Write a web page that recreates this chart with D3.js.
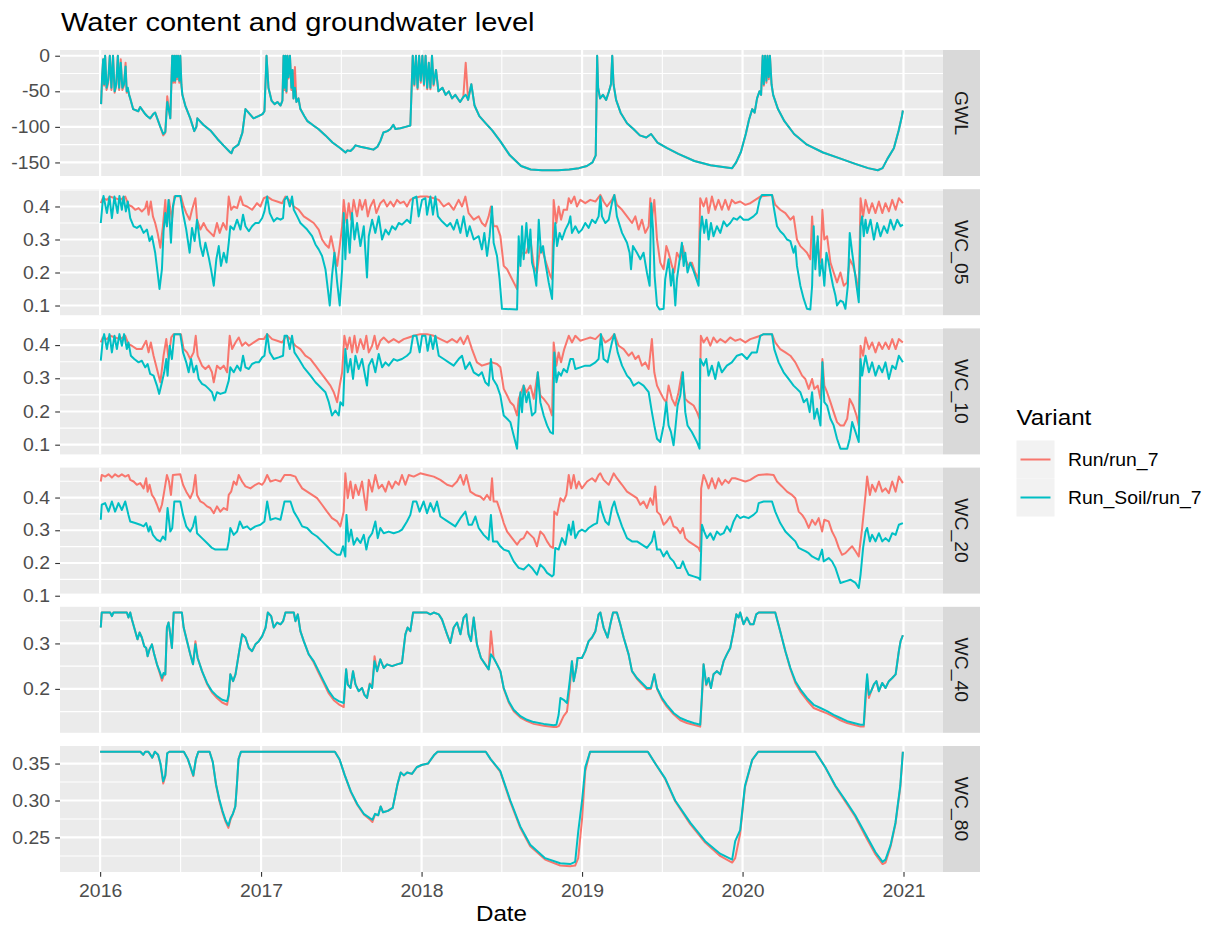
<!DOCTYPE html>
<html>
<head>
<meta charset="utf-8">
<script src="https://cdn.jsdelivr.net/npm/d3@7"></script>
<style>
  body { margin: 0; background: #fff; }
  svg { display: block; font-family: "Liberation Sans", Arial, sans-serif; }
</style>
</head>
<body>
<div id="chart"></div>
<script>
// values: [decimal year, value]
var gwlSoil = [[2016.006,-68],[2016.012,-30],[2016.019,-5],[2016.025,-40],[2016.031,0],[2016.040,-45],[2016.050,-35],[2016.060,0],[2016.070,-45],[2016.080,0],[2016.090,-50],[2016.100,-40],[2016.110,0],[2016.118,-45],[2016.128,-10],[2016.138,-45],[2016.148,-40],[2016.158,-15],[2016.165,-50],[2016.172,-45],[2016.180,-55],[2016.187,-60],[2016.205,-75],[2016.237,-78],[2016.249,-72],[2016.280,-82],[2016.293,-85],[2016.311,-88],[2016.330,-82],[2016.342,-80],[2016.361,-92],[2016.374,-100],[2016.392,-110],[2016.405,-107],[2016.417,-65],[2016.430,-80],[2016.436,-88],[2016.448,0],[2016.454,-35],[2016.460,0],[2016.466,-35],[2016.472,0],[2016.478,-30],[2016.484,0],[2016.492,-35],[2016.498,0],[2016.505,-40],[2016.511,-55],[2016.529,-70],[2016.560,-88],[2016.585,-106],[2016.598,-100],[2016.604,-88],[2016.641,-97],[2016.685,-105],[2016.729,-117],[2016.766,-126],[2016.809,-136],[2016.816,-137],[2016.828,-130],[2016.859,-125],[2016.884,-108],[2016.903,-75],[2016.922,-80],[2016.953,-88],[2016.984,-85],[2017.009,-82],[2017.021,-78],[2017.034,0],[2017.046,-45],[2017.065,-63],[2017.084,-68],[2017.102,-65],[2017.121,-70],[2017.133,-63],[2017.140,0],[2017.146,-45],[2017.152,0],[2017.158,-50],[2017.165,0],[2017.171,-30],[2017.180,0],[2017.189,-45],[2017.196,-20],[2017.202,-60],[2017.211,-45],[2017.220,-65],[2017.233,-60],[2017.245,-75],[2017.270,-85],[2017.289,-92],[2017.308,-95],[2017.326,-98],[2017.357,-103],[2017.401,-112],[2017.445,-122],[2017.494,-130],[2017.526,-136],[2017.538,-133],[2017.557,-134],[2017.575,-130],[2017.588,-126],[2017.619,-128],[2017.663,-130],[2017.700,-132],[2017.725,-128],[2017.743,-120],[2017.762,-108],[2017.787,-106],[2017.806,-103],[2017.824,-97],[2017.837,-103],[2017.868,-102],[2017.900,-100],[2017.930,-98],[2017.945,0],[2017.955,-40],[2017.965,0],[2017.975,-45],[2017.985,0],[2017.995,-35],[2018.005,0],[2018.015,-40],[2018.025,0],[2018.035,-45],[2018.045,-10],[2018.055,-45],[2018.065,0],[2018.075,-40],[2018.090,-20],[2018.105,-50],[2018.130,-45],[2018.150,-55],[2018.170,-50],[2018.190,-60],[2018.210,-55],[2018.240,-65],[2018.260,-58],[2018.275,-55],[2018.290,-62],[2018.310,-40],[2018.330,-70],[2018.360,-85],[2018.400,-95],[2018.440,-105],[2018.490,-120],[2018.550,-140],[2018.620,-155],[2018.680,-160],[2018.750,-161],[2018.850,-161],[2018.920,-160],[2018.980,-158],[2019.030,-155],[2019.065,-150],[2019.085,-140],[2019.094,0],[2019.100,-45],[2019.112,-60],[2019.130,-55],[2019.150,-62],[2019.168,-50],[2019.180,-40],[2019.188,0],[2019.196,-40],[2019.212,-62],[2019.240,-80],[2019.280,-95],[2019.320,-103],[2019.360,-112],[2019.400,-115],[2019.430,-110],[2019.470,-122],[2019.530,-130],[2019.600,-138],[2019.700,-148],[2019.800,-154],[2019.900,-157],[2019.935,-158],[2019.960,-150],[2019.990,-135],[2020.020,-110],[2020.040,-90],[2020.060,-75],[2020.075,-80],[2020.090,-60],[2020.105,-50],[2020.115,-55],[2020.125,0],[2020.132,-40],[2020.140,0],[2020.148,-35],[2020.155,0],[2020.163,-30],[2020.170,0],[2020.180,-40],[2020.190,-55],[2020.220,-75],[2020.260,-92],[2020.320,-110],[2020.400,-125],[2020.500,-136],[2020.600,-144],[2020.700,-152],[2020.780,-158],[2020.840,-161],[2020.870,-158],[2020.900,-145],[2020.940,-130],[2020.970,-105],[2020.990,-85],[2020.996,-77]];
var gwlRun = [[2016.006,-68],[2016.012,-35],[2016.019,-5],[2016.025,-42],[2016.031,0],[2016.040,-48],[2016.050,-38],[2016.060,0],[2016.070,-48],[2016.080,0],[2016.090,-52],[2016.100,-42],[2016.110,0],[2016.118,-48],[2016.128,-5],[2016.138,-48],[2016.148,-42],[2016.158,-10],[2016.165,-52],[2016.172,-47],[2016.180,-55],[2016.187,-60],[2016.205,-75],[2016.237,-78],[2016.249,-72],[2016.280,-82],[2016.293,-85],[2016.311,-88],[2016.330,-82],[2016.342,-80],[2016.361,-92],[2016.374,-100],[2016.392,-112],[2016.405,-108],[2016.417,-57],[2016.430,-80],[2016.436,-88],[2016.448,0],[2016.454,-38],[2016.460,0],[2016.466,-38],[2016.472,0],[2016.478,-33],[2016.484,0],[2016.492,-38],[2016.498,0],[2016.505,-42],[2016.511,-55],[2016.529,-70],[2016.560,-88],[2016.585,-106],[2016.598,-100],[2016.604,-88],[2016.641,-97],[2016.685,-105],[2016.729,-117],[2016.766,-126],[2016.809,-136],[2016.816,-137],[2016.828,-130],[2016.859,-125],[2016.884,-108],[2016.903,-75],[2016.922,-80],[2016.953,-88],[2016.984,-85],[2017.009,-82],[2017.021,-78],[2017.034,0],[2017.046,-45],[2017.065,-63],[2017.084,-68],[2017.102,-65],[2017.121,-70],[2017.133,-63],[2017.140,0],[2017.146,-48],[2017.152,0],[2017.158,-52],[2017.165,0],[2017.171,-32],[2017.180,0],[2017.189,-48],[2017.196,-20],[2017.202,-60],[2017.211,-16],[2017.220,-65],[2017.233,-60],[2017.245,-75],[2017.270,-85],[2017.289,-92],[2017.308,-95],[2017.326,-98],[2017.357,-103],[2017.401,-112],[2017.445,-122],[2017.494,-130],[2017.526,-136],[2017.538,-133],[2017.557,-134],[2017.575,-130],[2017.588,-126],[2017.619,-128],[2017.663,-130],[2017.700,-132],[2017.725,-128],[2017.743,-120],[2017.762,-108],[2017.787,-106],[2017.806,-103],[2017.824,-97],[2017.837,-103],[2017.868,-102],[2017.900,-100],[2017.930,-98],[2017.945,0],[2017.955,-42],[2017.965,0],[2017.975,-47],[2017.985,0],[2017.995,-38],[2018.005,0],[2018.015,-42],[2018.025,0],[2018.035,-47],[2018.045,-10],[2018.055,-47],[2018.065,0],[2018.075,-42],[2018.090,-20],[2018.105,-50],[2018.130,-45],[2018.150,-55],[2018.170,-50],[2018.190,-60],[2018.210,-55],[2018.240,-65],[2018.260,-58],[2018.275,-10],[2018.290,-62],[2018.310,-40],[2018.330,-70],[2018.360,-85],[2018.400,-95],[2018.440,-105],[2018.490,-120],[2018.550,-140],[2018.620,-155],[2018.680,-160],[2018.750,-161],[2018.850,-161],[2018.920,-160],[2018.980,-158],[2019.030,-155],[2019.065,-150],[2019.085,-140],[2019.094,0],[2019.100,-45],[2019.112,-60],[2019.130,-55],[2019.150,-62],[2019.168,-50],[2019.180,-40],[2019.188,0],[2019.196,-40],[2019.212,-62],[2019.240,-80],[2019.280,-95],[2019.320,-103],[2019.360,-112],[2019.400,-115],[2019.430,-110],[2019.470,-122],[2019.530,-130],[2019.600,-138],[2019.700,-148],[2019.800,-154],[2019.900,-157],[2019.935,-158],[2019.960,-150],[2019.990,-135],[2020.020,-110],[2020.040,-90],[2020.060,-75],[2020.075,-80],[2020.090,-60],[2020.105,-50],[2020.115,-55],[2020.125,0],[2020.132,-42],[2020.140,0],[2020.148,-38],[2020.155,0],[2020.163,-33],[2020.170,0],[2020.180,-40],[2020.190,-55],[2020.220,-75],[2020.260,-92],[2020.320,-110],[2020.400,-125],[2020.500,-136],[2020.600,-144],[2020.700,-152],[2020.780,-158],[2020.840,-161],[2020.870,-158],[2020.900,-145],[2020.940,-130],[2020.970,-105],[2020.990,-85],[2020.996,-77]];

var wc05Soil = [[2016.004,.350],[2016.017,.420],[2016.021,.432],[2016.042,.380],[2016.058,.430],[2016.073,.365],[2016.089,.430],[2016.108,.380],[2016.120,.432],[2016.135,.390],[2016.145,.430],[2016.160,.385],[2016.172,.415],[2016.187,.365],[2016.208,.340],[2016.228,.335],[2016.249,.342],[2016.270,.320],[2016.291,.330],[2016.307,.295],[2016.322,.310],[2016.342,.260],[2016.357,.200],[2016.369,.150],[2016.384,.210],[2016.394,.325],[2016.405,.380],[2016.415,.340],[2016.425,.420],[2016.440,.290],[2016.452,.400],[2016.467,.432],[2016.498,.432],[2016.515,.380],[2016.535,.330],[2016.556,.260],[2016.571,.335],[2016.587,.295],[2016.602,.360],[2016.623,.280],[2016.639,.250],[2016.654,.290],[2016.675,.245],[2016.689,.210],[2016.706,.160],[2016.722,.240],[2016.737,.280],[2016.751,.220],[2016.768,.260],[2016.785,.230],[2016.799,.290],[2016.809,.340],[2016.830,.330],[2016.851,.360],[2016.872,.330],[2016.888,.375],[2016.903,.340],[2016.924,.325],[2016.944,.340],[2016.965,.350],[2016.986,.350],[2017.007,.365],[2017.021,.385],[2017.038,.430],[2017.054,.380],[2017.079,.355],[2017.100,.365],[2017.121,.360],[2017.137,.365],[2017.146,.420],[2017.162,.430],[2017.179,.400],[2017.193,.430],[2017.204,.390],[2017.225,.370],[2017.245,.350],[2017.287,.330],[2017.318,.310],[2017.339,.285],[2017.359,.270],[2017.380,.250],[2017.401,.210],[2017.411,.170],[2017.428,.100],[2017.442,.190],[2017.457,.260],[2017.474,.170],[2017.490,.100],[2017.505,.210],[2017.515,.380],[2017.525,.240],[2017.536,.360],[2017.552,.260],[2017.567,.380],[2017.582,.300],[2017.598,.350],[2017.619,.280],[2017.640,.340],[2017.660,.185],[2017.671,.310],[2017.692,.360],[2017.712,.320],[2017.733,.370],[2017.754,.300],[2017.775,.330],[2017.795,.315],[2017.816,.340],[2017.837,.330],[2017.858,.350],[2017.878,.345],[2017.909,.360],[2017.930,.350],[2017.947,.425],[2017.968,.430],[2017.982,.370],[2018.003,.420],[2018.024,.425],[2018.034,.375],[2018.055,.430],[2018.071,.375],[2018.086,.430],[2018.102,.370],[2018.127,.355],[2018.159,.340],[2018.179,.350],[2018.200,.330],[2018.221,.360],[2018.242,.320],[2018.262,.370],[2018.283,.310],[2018.300,.340],[2018.325,.300],[2018.356,.310],[2018.376,.270],[2018.391,.320],[2018.408,.250],[2018.424,.310],[2018.439,.400],[2018.449,.290],[2018.470,.250],[2018.486,.180],[2018.501,.090],[2018.595,.088],[2018.605,.310],[2018.616,.220],[2018.626,.340],[2018.636,.240],[2018.653,.350],[2018.667,.260],[2018.678,.330],[2018.688,.230],[2018.699,.210],[2018.715,.160],[2018.730,.360],[2018.744,.260],[2018.757,.280],[2018.771,.230],[2018.792,.170],[2018.813,.120],[2018.823,.280],[2018.833,.350],[2018.844,.280],[2018.860,.320],[2018.875,.300],[2018.896,.330],[2018.917,.350],[2018.927,.370],[2018.937,.320],[2018.958,.340],[2018.979,.320],[2018.999,.330],[2019.020,.350],[2019.041,.335],[2019.062,.360],[2019.083,.350],[2019.103,.370],[2019.114,.430],[2019.124,.370],[2019.145,.350],[2019.166,.360],[2019.186,.410],[2019.201,.435],[2019.217,.370],[2019.249,.320],[2019.280,.290],[2019.296,.260],[2019.305,.210],[2019.317,.280],[2019.342,.260],[2019.363,.240],[2019.383,.260],[2019.404,.200],[2019.421,.160],[2019.431,.410],[2019.442,.330],[2019.452,.190],[2019.467,.100],[2019.483,.088],[2019.508,.090],[2019.518,.180],[2019.539,.240],[2019.554,.160],[2019.566,.210],[2019.581,.100],[2019.591,.180],[2019.608,.240],[2019.622,.290],[2019.633,.220],[2019.643,.260],[2019.657,.200],[2019.674,.230],[2019.691,.210],[2019.705,.190],[2019.726,.160],[2019.736,.320],[2019.747,.370],[2019.761,.320],[2019.774,.360],[2019.788,.300],[2019.803,.350],[2019.819,.310],[2019.840,.340],[2019.861,.320],[2019.882,.355],[2019.902,.340],[2019.923,.350],[2019.944,.365],[2019.965,.360],[2019.985,.370],[2020.006,.360],[2020.037,.360],[2020.068,.370],[2020.089,.380],[2020.106,.420],[2020.120,.435],[2020.183,.435],[2020.193,.400],[2020.214,.340],[2020.234,.325],[2020.255,.315],[2020.276,.300],[2020.297,.295],[2020.317,.260],[2020.328,.280],[2020.338,.220],[2020.359,.160],[2020.380,.120],[2020.400,.090],[2020.421,.088],[2020.432,.160],[2020.442,.340],[2020.452,.210],[2020.467,.310],[2020.479,.190],[2020.494,.240],[2020.508,.160],[2020.521,.260],[2020.535,.230],[2020.546,.200],[2020.562,.160],[2020.577,.130],[2020.587,.100],[2020.608,.115],[2020.625,.110],[2020.639,.090],[2020.654,.160],[2020.666,.320],[2020.681,.260],[2020.695,.210],[2020.708,.160],[2020.722,.110],[2020.733,.340],[2020.743,.370],[2020.753,.310],[2020.764,.360],[2020.774,.320],[2020.795,.360],[2020.816,.300],[2020.836,.350],[2020.857,.310],[2020.878,.340],[2020.899,.320],[2020.919,.360],[2020.940,.330],[2020.961,.360],[2020.982,.340],[2020.996,.345]];
var wc05Run = [[2016.004,.410],[2016.017,.425],[2016.042,.420],[2016.062,.430],[2016.093,.425],[2016.125,.420],[2016.156,.430],[2016.176,.405],[2016.197,.400],[2016.218,.390],[2016.239,.395],[2016.259,.385],[2016.280,.395],[2016.291,.415],[2016.301,.375],[2016.315,.415],[2016.328,.370],[2016.342,.350],[2016.357,.320],[2016.374,.275],[2016.390,.340],[2016.405,.420],[2016.415,.340],[2016.428,.420],[2016.446,.360],[2016.461,.430],[2016.502,.432],[2016.519,.400],[2016.535,.380],[2016.556,.360],[2016.571,.390],[2016.592,.425],[2016.602,.360],[2016.623,.330],[2016.643,.350],[2016.664,.330],[2016.685,.320],[2016.706,.310],[2016.726,.350],[2016.743,.320],[2016.764,.350],[2016.785,.330],[2016.799,.430],[2016.814,.390],[2016.830,.400],[2016.851,.395],[2016.872,.430],[2016.888,.405],[2016.913,.400],[2016.944,.390],[2016.975,.410],[2016.996,.400],[2017.017,.425],[2017.038,.430],[2017.069,.420],[2017.100,.415],[2017.131,.410],[2017.152,.430],[2017.183,.415],[2017.204,.400],[2017.235,.390],[2017.266,.370],[2017.297,.360],[2017.328,.350],[2017.359,.330],[2017.380,.300],[2017.401,.285],[2017.422,.275],[2017.436,.310],[2017.453,.270],[2017.474,.220],[2017.490,.280],[2017.505,.340],[2017.515,.420],[2017.532,.350],[2017.546,.410],[2017.561,.360],[2017.577,.420],[2017.598,.370],[2017.615,.420],[2017.629,.390],[2017.650,.420],[2017.665,.370],[2017.681,.400],[2017.702,.420],[2017.718,.380],[2017.743,.410],[2017.764,.420],[2017.785,.400],[2017.806,.415],[2017.826,.400],[2017.847,.420],[2017.868,.410],[2017.889,.415],[2017.909,.400],[2017.930,.420],[2017.951,.425],[2017.992,.430],[2018.034,.430],[2018.076,.425],[2018.107,.420],[2018.138,.400],[2018.169,.410],[2018.200,.390],[2018.231,.420],[2018.252,.400],[2018.273,.430],[2018.293,.380],[2018.325,.360],[2018.356,.370],[2018.376,.350],[2018.397,.340],[2018.418,.370],[2018.432,.400],[2018.449,.340],[2018.470,.340],[2018.491,.310],[2018.512,.220],[2018.533,.210],[2018.553,.190],[2018.574,.170],[2018.595,.150],[2018.605,.230],[2018.626,.260],[2018.653,.260],[2018.678,.300],[2018.699,.220],[2018.719,.200],[2018.740,.280],[2018.757,.260],[2018.782,.220],[2018.802,.190],[2018.813,.180],[2018.823,.420],[2018.840,.350],[2018.854,.400],[2018.869,.360],[2018.885,.390],[2018.906,.390],[2018.917,.425],[2018.931,.410],[2018.952,.430],[2018.968,.400],[2018.989,.420],[2019.020,.410],[2019.051,.420],[2019.083,.415],[2019.114,.435],[2019.134,.415],[2019.155,.400],[2019.186,.420],[2019.201,.435],[2019.217,.405],[2019.249,.390],[2019.280,.370],[2019.311,.350],[2019.332,.370],[2019.352,.330],[2019.373,.360],[2019.394,.320],[2019.415,.340],[2019.425,.425],[2019.435,.360],[2019.450,.420],[2019.467,.300],[2019.487,.230],[2019.508,.210],[2019.525,.280],[2019.539,.260],[2019.560,.220],[2019.574,.200],[2019.591,.260],[2019.612,.240],[2019.628,.280],[2019.643,.240],[2019.664,.220],[2019.684,.230],[2019.705,.200],[2019.726,.180],[2019.736,.425],[2019.757,.400],[2019.774,.425],[2019.788,.380],[2019.809,.430],[2019.830,.390],[2019.850,.420],[2019.871,.390],[2019.892,.420],[2019.913,.390],[2019.933,.420],[2019.954,.410],[2019.985,.415],[2020.017,.405],[2020.048,.410],[2020.079,.420],[2020.110,.430],[2020.183,.435],[2020.203,.405],[2020.234,.390],[2020.266,.380],[2020.297,.360],[2020.317,.370],[2020.338,.300],[2020.359,.280],[2020.380,.270],[2020.400,.260],[2020.421,.240],[2020.432,.370],[2020.446,.260],[2020.463,.290],[2020.484,.230],[2020.496,.390],[2020.508,.300],[2020.525,.310],[2020.546,.230],[2020.566,.200],[2020.587,.170],[2020.608,.200],[2020.629,.160],[2020.650,.170],[2020.666,.240],[2020.687,.220],[2020.708,.180],[2020.722,.130],[2020.733,.425],[2020.749,.370],[2020.764,.420],[2020.785,.380],[2020.805,.410],[2020.826,.380],[2020.847,.415],[2020.868,.380],[2020.888,.410],[2020.909,.385],[2020.930,.420],[2020.951,.390],[2020.971,.425],[2020.996,.410]];

var wc10Soil = [[2016.004,.353],[2016.017,.418],[2016.025,.433],[2016.042,.388],[2016.058,.433],[2016.073,.378],[2016.089,.428],[2016.104,.388],[2016.120,.433],[2016.135,.398],[2016.149,.433],[2016.166,.388],[2016.176,.408],[2016.191,.368],[2016.212,.358],[2016.239,.348],[2016.259,.353],[2016.280,.333],[2016.295,.343],[2016.311,.313],[2016.332,.308],[2016.353,.278],[2016.367,.253],[2016.384,.288],[2016.398,.318],[2016.411,.358],[2016.419,.308],[2016.432,.398],[2016.446,.358],[2016.461,.433],[2016.498,.433],[2016.515,.378],[2016.535,.348],[2016.550,.318],[2016.565,.358],[2016.581,.318],[2016.598,.338],[2016.612,.298],[2016.633,.283],[2016.654,.278],[2016.675,.268],[2016.695,.258],[2016.710,.233],[2016.726,.258],[2016.747,.253],[2016.778,.258],[2016.799,.293],[2016.809,.333],[2016.830,.318],[2016.851,.338],[2016.872,.323],[2016.888,.368],[2016.903,.333],[2016.924,.328],[2016.944,.343],[2016.965,.348],[2016.986,.348],[2017.007,.363],[2017.021,.368],[2017.038,.433],[2017.054,.378],[2017.079,.358],[2017.110,.363],[2017.137,.368],[2017.146,.428],[2017.162,.428],[2017.179,.388],[2017.193,.428],[2017.208,.378],[2017.235,.358],[2017.266,.333],[2017.308,.308],[2017.339,.288],[2017.370,.273],[2017.401,.258],[2017.422,.228],[2017.442,.188],[2017.463,.203],[2017.484,.188],[2017.494,.228],[2017.511,.218],[2017.525,.388],[2017.540,.318],[2017.557,.358],[2017.573,.298],[2017.588,.368],[2017.608,.328],[2017.629,.358],[2017.650,.303],[2017.660,.278],[2017.671,.338],[2017.692,.358],[2017.712,.318],[2017.733,.373],[2017.754,.333],[2017.775,.348],[2017.795,.338],[2017.826,.358],[2017.847,.353],[2017.878,.358],[2017.909,.368],[2017.930,.378],[2017.947,.428],[2017.968,.428],[2017.988,.378],[2018.003,.428],[2018.024,.428],[2018.038,.383],[2018.055,.428],[2018.071,.388],[2018.086,.428],[2018.107,.368],[2018.138,.358],[2018.169,.348],[2018.200,.338],[2018.231,.358],[2018.252,.368],[2018.273,.328],[2018.300,.348],[2018.325,.318],[2018.356,.308],[2018.376,.318],[2018.397,.288],[2018.418,.278],[2018.432,.358],[2018.445,.298],[2018.470,.278],[2018.491,.248],[2018.512,.188],[2018.533,.178],[2018.553,.168],[2018.574,.128],[2018.595,.088],[2018.605,.178],[2018.616,.258],[2018.626,.198],[2018.636,.278],[2018.653,.228],[2018.667,.258],[2018.688,.188],[2018.709,.198],[2018.724,.318],[2018.740,.228],[2018.761,.188],[2018.782,.158],[2018.802,.138],[2018.819,.133],[2018.827,.378],[2018.840,.288],[2018.854,.318],[2018.869,.308],[2018.885,.328],[2018.906,.318],[2018.927,.358],[2018.944,.358],[2018.958,.328],[2018.989,.333],[2019.020,.338],[2019.051,.338],[2019.083,.348],[2019.103,.358],[2019.118,.433],[2019.134,.358],[2019.159,.348],[2019.186,.408],[2019.201,.433],[2019.222,.378],[2019.249,.338],[2019.280,.308],[2019.300,.298],[2019.321,.278],[2019.352,.288],[2019.383,.278],[2019.415,.258],[2019.435,.198],[2019.450,.158],[2019.467,.118],[2019.487,.108],[2019.508,.158],[2019.525,.228],[2019.539,.158],[2019.554,.138],[2019.570,.098],[2019.581,.148],[2019.595,.218],[2019.612,.248],[2019.628,.318],[2019.643,.198],[2019.657,.158],[2019.684,.138],[2019.716,.108],[2019.732,.088],[2019.736,.358],[2019.757,.338],[2019.774,.358],[2019.788,.308],[2019.809,.338],[2019.830,.298],[2019.850,.348],[2019.871,.318],[2019.902,.338],[2019.933,.348],[2019.965,.368],[2019.996,.373],[2020.027,.358],[2020.058,.378],[2020.089,.378],[2020.110,.428],[2020.131,.433],[2020.183,.433],[2020.197,.388],[2020.224,.348],[2020.255,.318],[2020.286,.298],[2020.317,.278],[2020.338,.268],[2020.359,.258],[2020.380,.228],[2020.400,.238],[2020.417,.198],[2020.432,.258],[2020.446,.178],[2020.463,.208],[2020.484,.158],[2020.496,.348],[2020.508,.228],[2020.525,.218],[2020.546,.178],[2020.566,.158],[2020.587,.118],[2020.608,.088],[2020.650,.088],[2020.666,.118],[2020.681,.168],[2020.702,.138],[2020.722,.108],[2020.733,.358],[2020.743,.308],[2020.753,.338],[2020.764,.368],[2020.785,.318],[2020.805,.348],[2020.826,.308],[2020.847,.338],[2020.868,.318],[2020.888,.348],[2020.909,.298],[2020.930,.338],[2020.951,.328],[2020.971,.368],[2020.996,.348]];
var wc10Run = [[2016.004,.408],[2016.017,.423],[2016.042,.418],[2016.062,.428],[2016.093,.423],[2016.125,.418],[2016.156,.428],[2016.176,.403],[2016.197,.398],[2016.228,.388],[2016.259,.388],[2016.286,.413],[2016.301,.378],[2016.315,.408],[2016.332,.368],[2016.353,.328],[2016.374,.288],[2016.394,.368],[2016.411,.418],[2016.425,.358],[2016.442,.423],[2016.457,.433],[2016.502,.433],[2016.519,.388],[2016.540,.378],[2016.560,.358],[2016.581,.378],[2016.594,.428],[2016.606,.368],[2016.633,.338],[2016.654,.328],[2016.675,.338],[2016.695,.318],[2016.706,.288],[2016.726,.338],[2016.747,.328],[2016.768,.338],[2016.789,.318],[2016.805,.428],[2016.820,.388],[2016.841,.408],[2016.861,.423],[2016.882,.398],[2016.903,.408],[2016.924,.398],[2016.955,.408],[2016.986,.418],[2017.017,.418],[2017.038,.433],[2017.069,.418],[2017.100,.413],[2017.131,.408],[2017.158,.428],[2017.183,.418],[2017.214,.398],[2017.245,.388],[2017.276,.368],[2017.308,.358],[2017.339,.338],[2017.370,.318],[2017.401,.298],[2017.432,.278],[2017.453,.258],[2017.474,.228],[2017.490,.278],[2017.505,.318],[2017.519,.428],[2017.536,.388],[2017.552,.423],[2017.567,.378],[2017.582,.428],[2017.598,.378],[2017.619,.418],[2017.640,.388],[2017.656,.428],[2017.671,.378],[2017.692,.398],[2017.707,.428],[2017.723,.388],[2017.743,.413],[2017.764,.423],[2017.795,.408],[2017.826,.418],[2017.858,.408],[2017.889,.418],[2017.920,.423],[2017.951,.428],[2017.992,.433],[2018.034,.433],[2018.076,.428],[2018.117,.418],[2018.159,.408],[2018.190,.418],[2018.221,.408],[2018.242,.423],[2018.262,.403],[2018.287,.428],[2018.314,.388],[2018.345,.348],[2018.376,.338],[2018.408,.343],[2018.439,.348],[2018.470,.343],[2018.491,.333],[2018.512,.268],[2018.533,.248],[2018.553,.228],[2018.574,.218],[2018.595,.188],[2018.605,.238],[2018.620,.258],[2018.636,.278],[2018.653,.258],[2018.678,.278],[2018.699,.238],[2018.724,.318],[2018.740,.248],[2018.761,.238],[2018.792,.218],[2018.813,.188],[2018.823,.408],[2018.840,.338],[2018.854,.378],[2018.869,.348],[2018.889,.388],[2018.917,.428],[2018.937,.408],[2018.958,.428],[2018.989,.413],[2019.020,.418],[2019.051,.423],[2019.083,.418],[2019.114,.433],[2019.145,.408],[2019.176,.418],[2019.201,.433],[2019.228,.398],[2019.259,.388],[2019.290,.368],[2019.311,.378],[2019.332,.358],[2019.352,.368],[2019.373,.338],[2019.394,.348],[2019.415,.328],[2019.435,.418],[2019.450,.318],[2019.467,.278],[2019.487,.258],[2019.508,.238],[2019.525,.228],[2019.539,.278],[2019.560,.238],[2019.581,.218],[2019.601,.258],[2019.622,.318],[2019.643,.238],[2019.664,.228],[2019.695,.218],[2019.716,.198],[2019.732,.178],[2019.740,.428],[2019.757,.408],[2019.778,.423],[2019.799,.398],[2019.819,.423],[2019.840,.408],[2019.861,.418],[2019.892,.408],[2019.923,.423],[2019.954,.413],[2019.985,.418],[2020.017,.408],[2020.048,.418],[2020.079,.423],[2020.110,.428],[2020.131,.433],[2020.183,.433],[2020.203,.408],[2020.234,.388],[2020.266,.378],[2020.297,.368],[2020.328,.348],[2020.349,.328],[2020.370,.308],[2020.390,.298],[2020.411,.268],[2020.432,.298],[2020.446,.268],[2020.467,.278],[2020.484,.238],[2020.496,.358],[2020.508,.278],[2020.525,.258],[2020.546,.228],[2020.566,.198],[2020.587,.168],[2020.608,.158],[2020.629,.158],[2020.650,.178],[2020.666,.238],[2020.687,.218],[2020.708,.188],[2020.722,.158],[2020.733,.398],[2020.749,.368],[2020.764,.423],[2020.785,.388],[2020.805,.408],[2020.826,.378],[2020.847,.408],[2020.868,.388],[2020.888,.408],[2020.909,.388],[2020.930,.418],[2020.951,.388],[2020.971,.418],[2020.996,.408]];

var wc20Soil = [[2016.004,.332],[2016.010,.378],[2016.031,.383],[2016.052,.357],[2016.073,.388],[2016.093,.357],[2016.114,.383],[2016.135,.362],[2016.156,.388],[2016.176,.347],[2016.187,.327],[2016.218,.322],[2016.249,.317],[2016.270,.312],[2016.286,.322],[2016.301,.296],[2016.311,.312],[2016.328,.286],[2016.353,.271],[2016.374,.266],[2016.390,.281],[2016.405,.271],[2016.419,.368],[2016.436,.296],[2016.448,.307],[2016.461,.388],[2016.498,.388],[2016.515,.347],[2016.535,.312],[2016.560,.296],[2016.577,.312],[2016.592,.342],[2016.602,.291],[2016.633,.276],[2016.664,.261],[2016.695,.246],[2016.716,.241],[2016.747,.241],[2016.789,.241],[2016.799,.266],[2016.809,.307],[2016.830,.286],[2016.851,.296],[2016.868,.327],[2016.888,.307],[2016.913,.312],[2016.934,.302],[2016.965,.312],[2016.996,.317],[2017.021,.327],[2017.038,.388],[2017.058,.332],[2017.090,.337],[2017.121,.332],[2017.146,.388],[2017.183,.388],[2017.204,.357],[2017.229,.337],[2017.256,.312],[2017.287,.307],[2017.318,.291],[2017.349,.281],[2017.380,.266],[2017.411,.251],[2017.442,.236],[2017.474,.225],[2017.494,.225],[2017.511,.251],[2017.525,.220],[2017.532,.347],[2017.546,.266],[2017.561,.302],[2017.577,.256],[2017.598,.276],[2017.619,.261],[2017.640,.286],[2017.656,.241],[2017.671,.276],[2017.692,.291],[2017.712,.327],[2017.727,.276],[2017.743,.307],[2017.764,.291],[2017.795,.296],[2017.826,.291],[2017.858,.296],[2017.878,.302],[2017.909,.327],[2017.930,.347],[2017.947,.388],[2017.968,.388],[2017.988,.357],[2018.013,.388],[2018.034,.352],[2018.055,.383],[2018.076,.357],[2018.096,.388],[2018.117,.342],[2018.148,.332],[2018.179,.322],[2018.210,.312],[2018.242,.337],[2018.273,.357],[2018.293,.317],[2018.314,.317],[2018.335,.342],[2018.356,.307],[2018.387,.286],[2018.418,.271],[2018.432,.347],[2018.445,.266],[2018.470,.266],[2018.491,.251],[2018.512,.241],[2018.543,.236],[2018.574,.205],[2018.605,.185],[2018.636,.180],[2018.667,.195],[2018.688,.185],[2018.719,.164],[2018.740,.195],[2018.761,.185],[2018.782,.170],[2018.813,.159],[2018.823,.164],[2018.833,.246],[2018.854,.241],[2018.875,.276],[2018.896,.256],[2018.917,.317],[2018.931,.286],[2018.944,.327],[2018.958,.276],[2018.979,.296],[2018.999,.302],[2019.020,.296],[2019.041,.307],[2019.072,.317],[2019.093,.322],[2019.110,.388],[2019.124,.357],[2019.145,.327],[2019.166,.317],[2019.186,.368],[2019.201,.388],[2019.217,.357],[2019.249,.312],[2019.280,.276],[2019.311,.266],[2019.342,.266],[2019.373,.256],[2019.404,.246],[2019.435,.266],[2019.450,.296],[2019.467,.241],[2019.487,.241],[2019.508,.220],[2019.528,.236],[2019.549,.215],[2019.570,.205],[2019.591,.185],[2019.612,.185],[2019.628,.205],[2019.643,.185],[2019.664,.164],[2019.695,.159],[2019.726,.154],[2019.736,.149],[2019.747,.317],[2019.761,.296],[2019.778,.276],[2019.799,.291],[2019.819,.271],[2019.840,.296],[2019.861,.286],[2019.882,.291],[2019.902,.312],[2019.923,.296],[2019.944,.327],[2019.965,.347],[2019.985,.337],[2020.006,.342],[2020.037,.337],[2020.068,.347],[2020.089,.357],[2020.100,.383],[2020.131,.388],[2020.183,.388],[2020.203,.357],[2020.234,.322],[2020.266,.296],[2020.297,.281],[2020.328,.266],[2020.349,.246],[2020.370,.241],[2020.390,.236],[2020.411,.230],[2020.432,.220],[2020.452,.215],[2020.473,.210],[2020.494,.241],[2020.504,.205],[2020.535,.215],[2020.556,.205],[2020.577,.185],[2020.608,.139],[2020.639,.144],[2020.670,.149],[2020.702,.139],[2020.722,.124],[2020.733,.164],[2020.749,.246],[2020.764,.296],[2020.774,.307],[2020.791,.266],[2020.805,.286],[2020.826,.266],[2020.847,.291],[2020.868,.266],[2020.888,.276],[2020.909,.266],[2020.930,.291],[2020.951,.286],[2020.971,.317],[2020.996,.322]];
var wc20Run = [[2016.004,.449],[2016.010,.469],[2016.031,.464],[2016.052,.471],[2016.073,.461],[2016.093,.471],[2016.114,.464],[2016.135,.471],[2016.156,.464],[2016.176,.469],[2016.187,.454],[2016.208,.449],[2016.228,.439],[2016.249,.444],[2016.270,.428],[2016.286,.459],[2016.295,.418],[2016.307,.439],[2016.322,.408],[2016.336,.398],[2016.353,.378],[2016.369,.357],[2016.384,.378],[2016.398,.418],[2016.415,.469],[2016.428,.449],[2016.440,.408],[2016.452,.469],[2016.498,.471],[2016.515,.439],[2016.535,.418],[2016.560,.398],[2016.577,.418],[2016.592,.469],[2016.602,.408],[2016.623,.388],[2016.643,.383],[2016.664,.373],[2016.685,.368],[2016.706,.352],[2016.726,.373],[2016.747,.357],[2016.768,.368],[2016.789,.362],[2016.799,.408],[2016.814,.418],[2016.830,.449],[2016.847,.439],[2016.861,.469],[2016.882,.449],[2016.903,.434],[2016.934,.428],[2016.965,.439],[2016.986,.444],[2017.007,.439],[2017.021,.449],[2017.038,.469],[2017.058,.449],[2017.090,.454],[2017.121,.449],[2017.146,.469],[2017.183,.469],[2017.214,.464],[2017.229,.449],[2017.256,.428],[2017.287,.418],[2017.318,.408],[2017.349,.398],[2017.380,.378],[2017.411,.357],[2017.442,.337],[2017.474,.327],[2017.494,.312],[2017.515,.357],[2017.525,.474],[2017.540,.398],[2017.557,.449],[2017.573,.398],[2017.588,.439],[2017.608,.408],[2017.629,.449],[2017.644,.398],[2017.656,.362],[2017.671,.454],[2017.692,.418],[2017.712,.469],[2017.733,.428],[2017.754,.439],[2017.775,.418],[2017.795,.449],[2017.816,.428],[2017.837,.449],[2017.858,.439],[2017.878,.469],[2017.899,.439],[2017.920,.469],[2017.951,.464],[2017.992,.474],[2018.034,.469],[2018.076,.464],[2018.117,.454],[2018.159,.439],[2018.190,.434],[2018.221,.449],[2018.242,.469],[2018.262,.439],[2018.279,.469],[2018.304,.418],[2018.335,.408],[2018.366,.403],[2018.387,.393],[2018.408,.408],[2018.428,.393],[2018.439,.459],[2018.449,.388],[2018.470,.388],[2018.491,.357],[2018.512,.322],[2018.533,.296],[2018.564,.276],[2018.595,.256],[2018.616,.271],[2018.636,.276],[2018.657,.296],[2018.678,.286],[2018.699,.276],[2018.719,.251],[2018.740,.296],[2018.761,.286],[2018.782,.266],[2018.802,.251],[2018.819,.246],[2018.827,.357],[2018.844,.347],[2018.865,.398],[2018.885,.388],[2018.902,.408],[2018.917,.469],[2018.931,.428],[2018.948,.469],[2018.964,.428],[2018.979,.449],[2018.999,.428],[2019.031,.449],[2019.062,.459],[2019.083,.449],[2019.103,.469],[2019.114,.474],[2019.134,.454],[2019.166,.439],[2019.197,.474],[2019.217,.459],[2019.249,.439],[2019.280,.418],[2019.311,.408],[2019.342,.398],[2019.363,.378],[2019.383,.388],[2019.404,.368],[2019.425,.398],[2019.442,.378],[2019.456,.434],[2019.467,.357],[2019.487,.347],[2019.508,.317],[2019.528,.327],[2019.549,.342],[2019.570,.312],[2019.591,.307],[2019.612,.291],[2019.628,.307],[2019.643,.276],[2019.664,.266],[2019.695,.256],[2019.726,.246],[2019.736,.236],[2019.742,.428],[2019.757,.469],[2019.774,.449],[2019.788,.428],[2019.809,.459],[2019.830,.428],[2019.850,.459],[2019.871,.439],[2019.892,.454],[2019.913,.444],[2019.933,.459],[2019.954,.459],[2019.985,.454],[2020.017,.449],[2020.048,.454],[2020.079,.464],[2020.100,.469],[2020.151,.471],[2020.193,.469],[2020.214,.449],[2020.245,.434],[2020.276,.418],[2020.307,.408],[2020.328,.398],[2020.349,.357],[2020.370,.347],[2020.390,.332],[2020.411,.307],[2020.432,.332],[2020.452,.317],[2020.473,.337],[2020.494,.296],[2020.508,.332],[2020.535,.327],[2020.556,.296],[2020.577,.276],[2020.598,.246],[2020.618,.225],[2020.639,.230],[2020.660,.241],[2020.681,.251],[2020.702,.236],[2020.722,.220],[2020.743,.307],[2020.764,.408],[2020.774,.464],[2020.791,.408],[2020.805,.439],[2020.826,.418],[2020.847,.449],[2020.868,.418],[2020.888,.428],[2020.909,.413],[2020.930,.449],[2020.951,.418],[2020.971,.464],[2020.996,.444]];

var wc40Soil = [[2016.004,.335],[2016.010,.368],[2016.062,.368],[2016.073,.360],[2016.083,.368],[2016.166,.368],[2016.176,.357],[2016.187,.368],[2016.197,.353],[2016.218,.327],[2016.232,.309],[2016.245,.324],[2016.259,.313],[2016.274,.294],[2016.286,.290],[2016.295,.272],[2016.307,.287],[2016.322,.298],[2016.336,.276],[2016.353,.254],[2016.369,.239],[2016.384,.224],[2016.394,.235],[2016.405,.232],[2016.415,.335],[2016.425,.346],[2016.436,.320],[2016.446,.290],[2016.457,.368],[2016.508,.368],[2016.519,.335],[2016.540,.305],[2016.560,.276],[2016.577,.254],[2016.592,.298],[2016.606,.268],[2016.633,.239],[2016.664,.213],[2016.695,.195],[2016.726,.184],[2016.758,.176],[2016.789,.173],[2016.799,.187],[2016.809,.232],[2016.826,.217],[2016.841,.232],[2016.861,.276],[2016.882,.320],[2016.903,.313],[2016.924,.290],[2016.944,.283],[2016.965,.298],[2016.986,.305],[2017.007,.316],[2017.028,.335],[2017.042,.368],[2017.063,.360],[2017.079,.335],[2017.100,.346],[2017.121,.342],[2017.137,.349],[2017.152,.368],[2017.204,.368],[2017.214,.349],[2017.229,.364],[2017.245,.327],[2017.266,.305],[2017.297,.276],[2017.328,.261],[2017.359,.239],[2017.390,.217],[2017.422,.195],[2017.453,.180],[2017.484,.173],[2017.515,.169],[2017.530,.243],[2017.540,.210],[2017.557,.202],[2017.573,.239],[2017.588,.210],[2017.608,.195],[2017.629,.202],[2017.644,.187],[2017.660,.180],[2017.677,.210],[2017.692,.202],[2017.707,.261],[2017.723,.239],[2017.743,.265],[2017.764,.246],[2017.785,.254],[2017.816,.250],[2017.847,.254],[2017.878,.257],[2017.899,.320],[2017.913,.335],[2017.930,.327],[2017.947,.368],[2018.034,.368],[2018.055,.364],[2018.076,.368],[2018.107,.364],[2018.127,.353],[2018.159,.320],[2018.179,.301],[2018.200,.335],[2018.221,.346],[2018.242,.320],[2018.262,.357],[2018.279,.364],[2018.293,.320],[2018.308,.305],[2018.325,.357],[2018.345,.298],[2018.370,.268],[2018.397,.254],[2018.418,.243],[2018.432,.276],[2018.449,.268],[2018.470,.254],[2018.491,.239],[2018.512,.202],[2018.543,.173],[2018.574,.154],[2018.616,.140],[2018.657,.132],[2018.699,.127],[2018.761,.123],[2018.823,.120],[2018.840,.121],[2018.854,.143],[2018.865,.180],[2018.885,.176],[2018.906,.169],[2018.923,.217],[2018.937,.261],[2018.948,.217],[2018.964,.246],[2018.972,.268],[2018.999,.268],[2019.020,.283],[2019.041,.305],[2019.062,.313],[2019.083,.327],[2019.103,.364],[2019.114,.368],[2019.134,.335],[2019.159,.313],[2019.176,.342],[2019.193,.368],[2019.217,.368],[2019.238,.342],[2019.259,.313],[2019.290,.276],[2019.311,.239],[2019.342,.224],[2019.373,.213],[2019.404,.202],[2019.429,.202],[2019.450,.232],[2019.467,.202],[2019.498,.180],[2019.528,.165],[2019.570,.147],[2019.612,.136],[2019.653,.130],[2019.695,.125],[2019.736,.121],[2019.747,.187],[2019.757,.254],[2019.774,.210],[2019.788,.224],[2019.803,.202],[2019.819,.232],[2019.840,.239],[2019.861,.232],[2019.882,.261],[2019.902,.276],[2019.923,.290],[2019.944,.327],[2019.961,.364],[2019.975,.357],[2019.985,.368],[2020.006,.342],[2020.027,.357],[2020.048,.342],[2020.068,.342],[2020.085,.364],[2020.100,.368],[2020.203,.368],[2020.234,.327],[2020.266,.283],[2020.297,.246],[2020.328,.217],[2020.359,.199],[2020.400,.180],[2020.442,.165],[2020.484,.158],[2020.525,.151],[2020.566,.143],[2020.608,.136],[2020.650,.129],[2020.691,.125],[2020.733,.121],[2020.753,.121],[2020.764,.187],[2020.774,.232],[2020.785,.187],[2020.799,.195],[2020.816,.210],[2020.832,.217],[2020.847,.195],[2020.868,.213],[2020.888,.202],[2020.909,.217],[2020.930,.224],[2020.951,.232],[2020.961,.257],[2020.971,.283],[2020.982,.305],[2020.996,.318]];
var wc40Run = [[2016.004,.335],[2016.010,.368],[2016.062,.368],[2016.073,.360],[2016.083,.368],[2016.166,.368],[2016.176,.357],[2016.187,.368],[2016.197,.353],[2016.218,.327],[2016.232,.309],[2016.245,.324],[2016.259,.313],[2016.274,.294],[2016.286,.290],[2016.295,.272],[2016.307,.287],[2016.322,.298],[2016.336,.276],[2016.353,.254],[2016.369,.236],[2016.384,.218],[2016.394,.228],[2016.405,.232],[2016.415,.335],[2016.425,.346],[2016.436,.320],[2016.446,.290],[2016.457,.368],[2016.508,.368],[2016.519,.335],[2016.540,.305],[2016.560,.276],[2016.577,.254],[2016.592,.305],[2016.606,.268],[2016.633,.239],[2016.664,.211],[2016.695,.192],[2016.726,.180],[2016.758,.170],[2016.789,.165],[2016.799,.185],[2016.809,.232],[2016.826,.217],[2016.841,.232],[2016.861,.276],[2016.882,.320],[2016.903,.313],[2016.924,.290],[2016.944,.283],[2016.965,.298],[2016.986,.305],[2017.007,.316],[2017.028,.335],[2017.042,.368],[2017.063,.360],[2017.079,.335],[2017.100,.346],[2017.121,.342],[2017.137,.349],[2017.152,.368],[2017.204,.368],[2017.214,.349],[2017.229,.364],[2017.245,.327],[2017.266,.305],[2017.297,.276],[2017.328,.258],[2017.359,.235],[2017.390,.213],[2017.422,.190],[2017.453,.175],[2017.484,.166],[2017.515,.160],[2017.530,.243],[2017.540,.210],[2017.557,.202],[2017.573,.239],[2017.588,.210],[2017.608,.195],[2017.629,.202],[2017.644,.187],[2017.660,.180],[2017.677,.212],[2017.692,.202],[2017.707,.272],[2017.723,.239],[2017.743,.265],[2017.764,.246],[2017.785,.254],[2017.816,.250],[2017.847,.254],[2017.878,.257],[2017.899,.320],[2017.913,.335],[2017.930,.327],[2017.947,.368],[2018.034,.368],[2018.055,.364],[2018.076,.368],[2018.107,.364],[2018.127,.353],[2018.159,.320],[2018.179,.301],[2018.200,.335],[2018.221,.346],[2018.242,.320],[2018.262,.357],[2018.279,.364],[2018.293,.320],[2018.308,.305],[2018.325,.357],[2018.345,.298],[2018.370,.268],[2018.397,.254],[2018.418,.243],[2018.432,.327],[2018.449,.268],[2018.470,.254],[2018.491,.239],[2018.512,.200],[2018.543,.170],[2018.574,.151],[2018.616,.137],[2018.657,.129],[2018.699,.123],[2018.761,.119],[2018.823,.116],[2018.840,.116],[2018.854,.118],[2018.865,.125],[2018.885,.140],[2018.906,.150],[2018.923,.200],[2018.937,.261],[2018.948,.217],[2018.964,.246],[2018.972,.268],[2018.999,.268],[2019.020,.283],[2019.041,.305],[2019.062,.313],[2019.083,.327],[2019.103,.364],[2019.114,.368],[2019.134,.335],[2019.159,.313],[2019.176,.342],[2019.193,.368],[2019.217,.368],[2019.238,.342],[2019.259,.313],[2019.290,.276],[2019.311,.239],[2019.342,.222],[2019.373,.210],[2019.404,.199],[2019.429,.200],[2019.450,.232],[2019.467,.200],[2019.498,.177],[2019.528,.161],[2019.570,.144],[2019.612,.131],[2019.653,.125],[2019.695,.121],[2019.736,.117],[2019.747,.180],[2019.757,.254],[2019.774,.208],[2019.788,.224],[2019.803,.202],[2019.819,.232],[2019.840,.239],[2019.861,.232],[2019.882,.261],[2019.902,.276],[2019.923,.290],[2019.944,.327],[2019.961,.364],[2019.975,.357],[2019.985,.368],[2020.006,.342],[2020.027,.357],[2020.048,.342],[2020.068,.342],[2020.085,.364],[2020.100,.368],[2020.203,.368],[2020.234,.327],[2020.266,.283],[2020.297,.244],[2020.328,.213],[2020.359,.194],[2020.400,.175],[2020.442,.158],[2020.484,.152],[2020.525,.146],[2020.566,.139],[2020.608,.131],[2020.650,.125],[2020.691,.121],[2020.733,.117],[2020.753,.117],[2020.764,.170],[2020.774,.225],[2020.785,.180],[2020.799,.195],[2020.816,.210],[2020.832,.217],[2020.847,.195],[2020.868,.213],[2020.888,.202],[2020.909,.217],[2020.930,.224],[2020.951,.232],[2020.961,.257],[2020.971,.283],[2020.982,.305],[2020.996,.318]];

var wc80Soil = [[2016.000,.366],[2016.250,.366],[2016.268,.362],[2016.280,.366],[2016.300,.366],[2016.324,.358],[2016.340,.366],[2016.360,.362],[2016.375,.350],[2016.392,.326],[2016.405,.334],[2016.417,.364],[2016.430,.366],[2016.520,.366],[2016.545,.356],[2016.579,.334],[2016.595,.356],[2016.610,.366],[2016.680,.366],[2016.700,.352],[2016.720,.322],[2016.740,.302],[2016.760,.286],[2016.780,.273],[2016.797,.266],[2016.810,.276],[2016.825,.282],[2016.840,.292],[2016.850,.322],[2016.860,.356],[2016.875,.366],[2017.460,.366],[2017.490,.355],[2017.520,.335],[2017.560,.312],[2017.600,.295],[2017.640,.282],[2017.680,.276],[2017.694,.274],[2017.710,.282],[2017.730,.280],[2017.745,.292],[2017.760,.284],[2017.790,.286],[2017.820,.290],[2017.850,.322],[2017.870,.338],[2017.890,.334],[2017.910,.338],[2017.940,.336],[2017.970,.345],[2018.000,.348],[2018.040,.350],[2018.080,.362],[2018.100,.366],[2018.400,.366],[2018.430,.356],[2018.490,.340],[2018.553,.300],[2018.615,.265],[2018.677,.240],[2018.770,.222],[2018.864,.215],[2018.926,.214],[2018.957,.217],[2018.976,.258],[2019.000,.300],[2019.020,.345],[2019.050,.366],[2019.410,.366],[2019.456,.350],[2019.518,.330],[2019.580,.300],[2019.674,.270],[2019.767,.245],[2019.860,.228],[2019.935,.220],[2019.954,.245],[2019.985,.260],[2020.015,.320],[2020.060,.355],[2020.097,.366],[2020.452,.366],[2020.514,.345],[2020.577,.320],[2020.640,.300],[2020.700,.280],[2020.763,.255],[2020.826,.230],[2020.870,.217],[2020.888,.220],[2020.920,.240],[2020.950,.270],[2020.980,.320],[2020.996,.366]];
var wc80Run = [[2016.000,.366],[2016.250,.366],[2016.268,.362],[2016.280,.366],[2016.300,.366],[2016.324,.358],[2016.340,.366],[2016.360,.362],[2016.375,.349],[2016.392,.323],[2016.405,.333],[2016.417,.364],[2016.430,.366],[2016.520,.366],[2016.545,.356],[2016.579,.333],[2016.595,.356],[2016.610,.366],[2016.680,.366],[2016.700,.352],[2016.720,.321],[2016.740,.300],[2016.760,.284],[2016.780,.271],[2016.797,.263],[2016.810,.274],[2016.825,.282],[2016.840,.292],[2016.850,.322],[2016.860,.356],[2016.875,.366],[2017.460,.366],[2017.490,.355],[2017.520,.335],[2017.560,.311],[2017.600,.294],[2017.640,.281],[2017.680,.274],[2017.694,.271],[2017.710,.281],[2017.730,.280],[2017.745,.292],[2017.760,.284],[2017.790,.286],[2017.820,.290],[2017.850,.322],[2017.870,.338],[2017.890,.334],[2017.910,.338],[2017.940,.336],[2017.970,.345],[2018.000,.348],[2018.040,.350],[2018.080,.362],[2018.100,.366],[2018.400,.366],[2018.430,.356],[2018.490,.339],[2018.553,.298],[2018.615,.263],[2018.677,.238],[2018.770,.220],[2018.864,.212],[2018.926,.211],[2018.957,.212],[2018.976,.222],[2019.000,.275],[2019.020,.340],[2019.050,.366],[2019.410,.366],[2019.456,.350],[2019.518,.329],[2019.580,.299],[2019.674,.268],[2019.767,.243],[2019.860,.225],[2019.935,.216],[2019.954,.222],[2019.985,.255],[2020.015,.318],[2020.060,.355],[2020.097,.366],[2020.452,.366],[2020.514,.345],[2020.577,.319],[2020.640,.298],[2020.700,.278],[2020.763,.252],[2020.826,.227],[2020.870,.214],[2020.888,.216],[2020.920,.238],[2020.950,.268],[2020.980,.318],[2020.996,.366]];

var panelNames = ["GWL", "WC_05", "WC_10", "WC_20", "WC_40", "WC_80"];
var gwlTicks = [0, -50, -100, -150];
var wcTicks = [0.1, 0.2, 0.3, 0.4];
var wc40Ticks = [0.2, 0.3];
var wc80Ticks = [0.25, 0.30, 0.35];
var yearTicks = [2016, 2017, 2018, 2019, 2020, 2021];
var variants = ["Run/run_7", "Run_Soil/run_7"];
var colors = ["#F8766D", "#00BFC4"];

var panels = [
   { name: panelNames[0], run: gwlRun, soil: gwlSoil, ticks: gwlTicks, fmt: function (d) { return String(d); } },
   { name: panelNames[1], run: wc05Run, soil: wc05Soil, ticks: wcTicks, fmt: d3.format(".1f") },
   { name: panelNames[2], run: wc10Run, soil: wc10Soil, ticks: wcTicks, fmt: d3.format(".1f") },
   { name: panelNames[3], run: wc20Run, soil: wc20Soil, ticks: wcTicks, fmt: d3.format(".1f") },
   { name: panelNames[4], run: wc40Run, soil: wc40Soil, ticks: wc40Ticks, fmt: d3.format(".1f") },
   { name: panelNames[5], run: wc80Run, soil: wc80Soil, ticks: wc80Ticks, fmt: d3.format(".2f") }
];

// decimal year -> Date
function toDate(t) {
   var y = Math.floor(t);
   var s = Date.UTC(y, 0, 1), e = Date.UTC(y + 1, 0, 1);
   return new Date(s + (t - y) * (e - s));
}

// ggplot style minor breaks: midpoints, plus one step beyond each end
function minorBreaks(b, dom) {
   var out = [];
   var step = b[1] - b[0];
   for (var i = 0; i < b.length - 1; i++) out.push((b[i] + b[i + 1]) / 2);
   out.push(b[0] - step / 2, b[b.length - 1] + step / 2);
   return out.filter(function (v) { return v >= dom[0] && v <= dom[1]; });
}

var width = 1209, height = 929;
var plotLeft = 60, plotRight = 943, stripWidth = 37;
var panelTop = 50, panelHeight = 126, panelStep = 139.2;
var axisColor = "#4D4D4D", tickColor = "#333333";
// the reference glyphs are a bit wider than Liberation Sans
var wide = 1.1, axisFont = 17.6;

var svg = d3.select("#chart").append("svg")
   .attr("width", width)
   .attr("height", height);

svg.append("text")
   .attr("transform", "translate(61,31) scale(" + wide + ",1)")
   .attr("font-size", 26.4)
   .attr("fill", "#000")
   .text("Water content and groundwater level");

// shared x scale, 5% expansion like ggplot
var allT = [];
panels.forEach(function (p) { p.run.concat(p.soil).forEach(function (d) { allT.push(d[0]); }); });
var tMin = toDate(d3.min(allT)).getTime(), tMax = toDate(d3.max(allT)).getTime();
var tPad = (tMax - tMin) * 0.05;
var xScale = d3.scaleUtc()
   .domain([new Date(tMin - tPad), new Date(tMax + tPad)])
   .range([plotLeft, plotRight]);

var yearDates = yearTicks.map(function (y) { return new Date(Date.UTC(y, 0, 1)); });
var xMinor = [];
for (var i = 0; i < yearDates.length - 1; i++) {
   xMinor.push(new Date((yearDates[i].getTime() + yearDates[i + 1].getTime()) / 2));
}

panels.forEach(function (p, i) {
   var top = panelTop + i * panelStep;
   var vals = p.run.concat(p.soil).map(function (d) { return d[1]; });
   var lo = d3.min(vals), hi = d3.max(vals), pad = (hi - lo) * 0.05;
   var yScale = d3.scaleLinear()
      .domain([lo - pad, hi + pad])
      .range([top + panelHeight, top]);

   var g = svg.append("g").attr("class", "panel");

   g.append("rect")
      .attr("x", plotLeft).attr("y", top)
      .attr("width", plotRight - plotLeft).attr("height", panelHeight)
      .attr("fill", "#EBEBEB");

   // minor grid
   g.selectAll(".ymin").data(minorBreaks(p.ticks, yScale.domain())).enter()
      .append("line")
      .attr("x1", plotLeft).attr("x2", plotRight)
      .attr("y1", function (d) { return yScale(d); }).attr("y2", function (d) { return yScale(d); })
      .attr("stroke", "#fff").attr("stroke-width", 1.1);
   g.selectAll(".xmin").data(xMinor).enter()
      .append("line")
      .attr("x1", function (d) { return xScale(d); }).attr("x2", function (d) { return xScale(d); })
      .attr("y1", top).attr("y2", top + panelHeight)
      .attr("stroke", "#fff").attr("stroke-width", 1.1);

   // major grid
   g.selectAll(".ymaj").data(p.ticks).enter()
      .append("line")
      .attr("x1", plotLeft).attr("x2", plotRight)
      .attr("y1", function (d) { return yScale(d); }).attr("y2", function (d) { return yScale(d); })
      .attr("stroke", "#fff").attr("stroke-width", 2.2);
   g.selectAll(".xmaj").data(yearDates).enter()
      .append("line")
      .attr("x1", function (d) { return xScale(d); }).attr("x2", function (d) { return xScale(d); })
      .attr("y1", top).attr("y2", top + panelHeight)
      .attr("stroke", "#fff").attr("stroke-width", 2.2);

   var line = d3.line()
      .x(function (d) { return xScale(toDate(d[0])); })
      .y(function (d) { return yScale(d[1]); });

   [p.run, p.soil].forEach(function (s, k) {
      g.append("path")
         .datum(s)
         .attr("d", line)
         .attr("fill", "none")
         .attr("stroke", colors[k])
         .attr("stroke-width", 2)
         .attr("stroke-linejoin", "round");
   });

   // strip on the right
   g.append("rect")
      .attr("x", plotRight).attr("y", top)
      .attr("width", stripWidth).attr("height", panelHeight)
      .attr("fill", "#D9D9D9");
   g.append("text")
      .attr("transform", "translate(" + (plotRight + stripWidth / 2) + "," + (top + panelHeight / 2) + ") rotate(90) scale(" + wide + ",1)")
      .attr("text-anchor", "middle")
      .attr("dy", "0.35em")
      .attr("font-size", axisFont)
      .attr("fill", "#1A1A1A")
      .text(p.name);

   // y axis
   var yAxis = d3.axisLeft(yScale)
      .tickValues(p.ticks)
      .tickSize(4.8)
      .tickFormat(p.fmt);
   var gy = svg.append("g")
      .attr("transform", "translate(" + plotLeft + ",0)")
      .call(yAxis);
   gy.select(".domain").remove();
   gy.selectAll(".tick line").attr("stroke", tickColor).attr("stroke-width", 1.1);
   gy.selectAll(".tick text")
      .attr("x", -10 / wide)
      .attr("transform", "scale(" + wide + ",1)")
      .attr("fill", axisColor)
      .attr("font-size", axisFont)
      .attr("font-family", "Liberation Sans, Arial, sans-serif");

   if (i === panels.length - 1) {
      var xAxis = d3.axisBottom(xScale)
         .tickValues(yearDates)
         .tickSize(4.8)
         .tickPadding(7.7)
         .tickFormat(d3.utcFormat("%Y"));
      var gx = svg.append("g")
         .attr("transform", "translate(0," + (top + panelHeight) + ")")
         .call(xAxis);
      gx.select(".domain").remove();
      gx.selectAll(".tick line").attr("stroke", tickColor).attr("stroke-width", 1.1);
      gx.selectAll(".tick text")
         .attr("transform", "scale(" + wide + ",1)")
         .attr("fill", axisColor)
         .attr("font-size", axisFont)
         .attr("font-family", "Liberation Sans, Arial, sans-serif");
   }
});

svg.append("text")
   .attr("transform", "translate(" + ((plotLeft + plotRight) / 2) + ",921) scale(" + wide + ",1)")
   .attr("text-anchor", "middle")
   .attr("font-size", 22)
   .attr("fill", "#000")
   .text("Date");

// legend
var legend = svg.append("g").attr("transform", "translate(1016.5,0)");
legend.append("text")
   .attr("transform", "translate(0,425) scale(" + wide + ",1)")
   .attr("font-size", 22)
   .attr("fill", "#000")
   .text("Variant");
variants.forEach(function (v, k) {
   var ky = 440.5 + k * 38;
   legend.append("rect")
      .attr("x", 0).attr("y", ky)
      .attr("width", 38).attr("height", 38)
      .attr("fill", "#F2F2F2");
   legend.append("line")
      .attr("x1", 4).attr("x2", 34)
      .attr("y1", ky + 19).attr("y2", ky + 19)
      .attr("stroke", colors[k])
      .attr("stroke-width", 2);
   legend.append("text")
      .attr("transform", "translate(51.5," + (ky + 19) + ") scale(" + wide + ",1)")
      .attr("dy", "0.35em")
      .attr("font-size", axisFont)
      .attr("fill", "#000")
      .text(v);
});
</script>
</body>
</html>
